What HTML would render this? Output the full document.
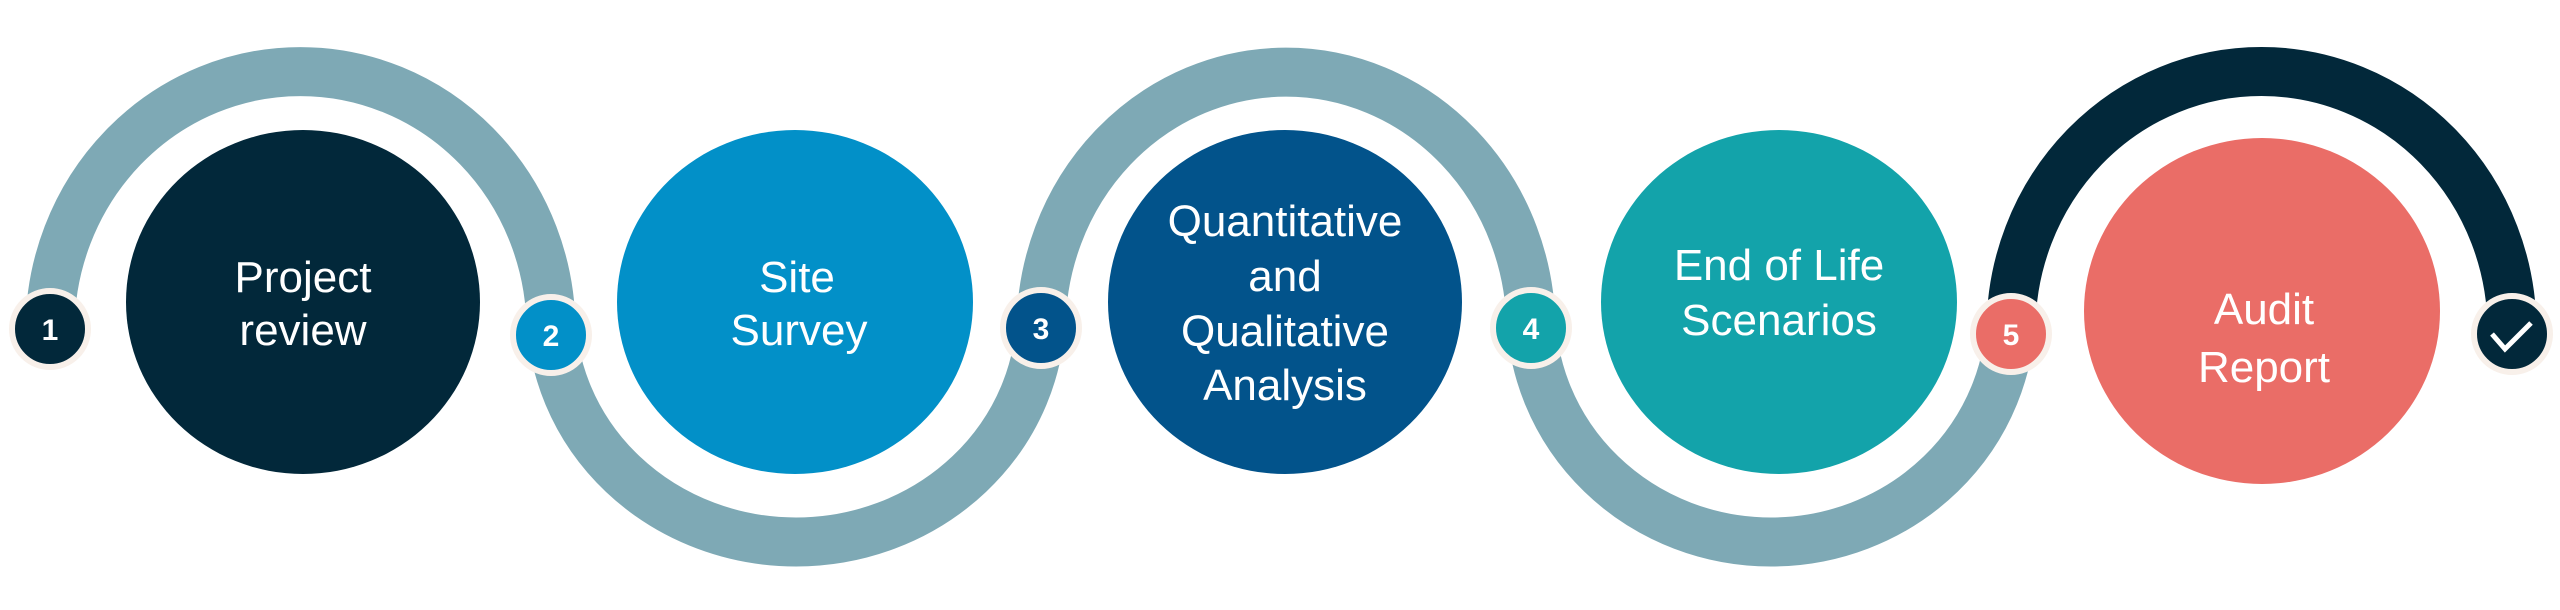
<!DOCTYPE html>
<html><head><meta charset="utf-8"><style>
html,body{margin:0;padding:0;background:#fff;}
svg{display:block;}
text{font-family:"Liberation Sans",sans-serif;fill:#fff;}
</style></head><body>
<svg width="2560" height="610" viewBox="0 0 2560 610" xmlns="http://www.w3.org/2000/svg">
<g fill="none" stroke-width="49">
<path d="M50 330 A250 258 0 0 1 551 330" stroke="#7EA9B5"/>
<path d="M551 310 A245 232 0 0 0 1041 310" stroke="#7EA9B5"/>
<path d="M1041 330 A245 258 0 0 1 1531 330" stroke="#7EA9B5"/>
<path d="M1531 310 A240 232 0 0 0 2011 310" stroke="#7EA9B5"/>
<path d="M2011 330 A250 258 0 0 1 2512 330" stroke="#02283A"/>
</g>
<ellipse cx="303" cy="302" rx="177" ry="172" fill="#02283A"/>
<ellipse cx="795" cy="302" rx="178" ry="172" fill="#0290C8"/>
<ellipse cx="1285" cy="302" rx="177" ry="172" fill="#02538B"/>
<ellipse cx="1779" cy="302" rx="178" ry="172" fill="#13A3AA"/>
<ellipse cx="2262" cy="311" rx="178" ry="173" fill="#EA6D67"/>
<g font-size="44" text-anchor="middle">
<text x="303" y="292">Project</text><text x="303" y="345">review</text>
<text x="797" y="292">Site</text><text x="799" y="345">Survey</text>
<text x="1285" y="236">Quantitative</text><text x="1285" y="291">and</text>
<text x="1285" y="346">Qualitative</text><text x="1285" y="400">Analysis</text>
<text x="1779" y="280">End of Life</text><text x="1779" y="335">Scenarios</text>
<text x="2264" y="324">Audit</text><text x="2264" y="382">Report</text>
</g>
<g stroke="#F8F0EA" stroke-width="6">
<circle cx="50" cy="329" r="38" fill="#02283A"/>
<circle cx="551" cy="335" r="38" fill="#0290C8"/>
<circle cx="1041" cy="328" r="38" fill="#02538B"/>
<circle cx="1531" cy="328" r="38" fill="#13A3AA"/>
<circle cx="2011" cy="334" r="38" fill="#EA6D67"/>
<circle cx="2512" cy="334" r="38" fill="#02283A"/>
</g>
<g font-size="30" font-weight="bold" text-anchor="middle">
<text x="50" y="340">1</text>
<text x="551" y="346">2</text>
<text x="1041" y="339">3</text>
<text x="1531" y="339">4</text>
<text x="2011" y="345">5</text>
</g>
<path d="M2492 334 L2505 349 L2531 323" fill="none" stroke="#fff" stroke-width="5"/>
</svg>
</body></html>
